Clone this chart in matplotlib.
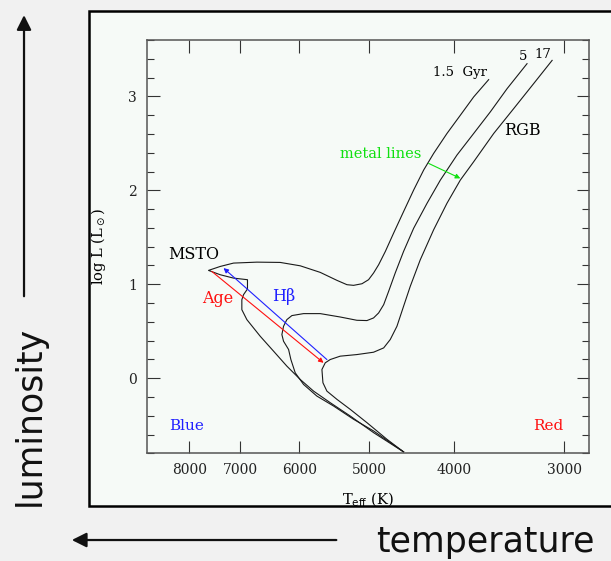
import numpy as np
import matplotlib
matplotlib.use("Agg")
import matplotlib.pyplot as plt
from matplotlib.patches import Rectangle, FancyArrowPatch
from matplotlib.ticker import FixedLocator, NullLocator, MultipleLocator, FuncFormatter

# isochrones: Teff (K) and log L (Lsun), traced from the MS up to the RGB tip
teff_15 = [4567, 4940, 5251, 5533, 5779, 5984, 6197, 6416, 6644, 6880, 6971, 6971,
           6940, 6869, 6869, 7124, 7377, 7606, 7377, 7124, 6702, 6306, 5984, 5679,
           5436, 5296, 5205, 5092, 5005, 4940, 4875, 4790, 4688, 4567, 4448, 4333,
           4222, 4077, 3937, 3802, 3656]
logl_15 = [-0.785, -0.58, -0.403, -0.261, -0.138, -0.014, 0.128, 0.287, 0.446, 0.623,
           0.729, 0.835, 0.889, 0.949, 1.048, 1.065, 1.101, 1.147, 1.189, 1.225, 1.235,
           1.232, 1.196, 1.126, 1.041, 0.995, 0.988, 1.005, 1.048, 1.119, 1.207, 1.349,
           1.543, 1.773, 2.003, 2.216, 2.392, 2.605, 2.799, 2.994, 3.178]

teff_5 = [4567, 4940, 5205, 5484, 5729, 5932, 6063, 6132, 6169, 6251, 6278, 6251,
          6197, 6116, 5932, 5679, 5390, 5160, 5026, 4940, 4875, 4811, 4749, 4668,
          4567, 4448, 4295, 4148, 3972, 3802, 3640, 3484, 3307]
logl_5 = [-0.785, -0.562, -0.438, -0.297, -0.191, -0.067, 0.057, 0.198, 0.305, 0.393,
          0.464, 0.552, 0.623, 0.666, 0.687, 0.687, 0.651, 0.616, 0.613, 0.641, 0.694,
          0.782, 0.924, 1.119, 1.349, 1.596, 1.862, 2.109, 2.375, 2.605, 2.835, 3.082,
          3.348]

teff_17 = [4567, 4770, 5026, 5251, 5436, 5581, 5639, 5654, 5605, 5533, 5390, 5160,
           4940, 4811, 4729, 4647, 4567, 4488, 4372, 4222, 4077, 3937, 3802, 3608,
           3424, 3250, 3097]
logl_17 = [-0.785, -0.651, -0.474, -0.332, -0.226, -0.138, -0.049, 0.092, 0.163, 0.198,
           0.234, 0.251, 0.276, 0.322, 0.411, 0.552, 0.765, 0.977, 1.26, 1.579, 1.862,
           2.109, 2.304, 2.605, 2.87, 3.136, 3.383]

# arrows: (Teff, logL) start -> end
hbeta_arrow = [(5581, 0.198), (7313, 1.172)]
age_arrow = [(7540, 1.136), (5630, 0.163)]
metal_arrow = [(4277, 2.286), (3937, 2.127)]

temp_ticks = [8000, 7000, 6000, 5000, 4000, 3000]
lum_ticks = [0, 1, 2, 3]

bg = '#f6faf7'
fig = plt.figure(figsize=(6.11, 5.61), dpi=100, facecolor='#f1f1f1')

# framed panel
fig.patches.append(Rectangle((0.1457, 0.098), 0.9, 0.8823, transform=fig.transFigure,
                             facecolor=bg, edgecolor='black', linewidth=1.8, zorder=-10))

ax = fig.add_axes([0.2401, 0.192, 0.7244, 0.7367], zorder=5)
ax.set_facecolor(bg)

for t, l in [(teff_15, logl_15), (teff_5, logl_5), (teff_17, logl_17)]:
    ax.plot(t, l, color='#1a1a1a', lw=0.8)

ax.set_xscale('log')
ax.set_xlim(8940, 2810)
ax.set_ylim(-0.8, 3.6)
ax.xaxis.set_major_locator(FixedLocator(temp_ticks))
ax.xaxis.set_minor_locator(NullLocator())
ax.xaxis.set_major_formatter(FuncFormatter(lambda v, p: '%d' % round(v)))
ax.yaxis.set_major_locator(FixedLocator(lum_ticks))
ax.yaxis.set_minor_locator(MultipleLocator(0.2))

ax.tick_params(which='both', direction='in', top=True, right=True, color='#333333', width=0.8)
ax.tick_params(which='major', length=9, pad=7, labelsize=10)
ax.tick_params(which='minor', length=5)
for lab in ax.get_xticklabels() + ax.get_yticklabels():
    lab.set_fontfamily('DejaVu Serif')
    lab.set_color('#222222')
for s in ax.spines.values():
    s.set_color('#555555')
    s.set_linewidth(1.1)

ax.set_xlabel(r'T$_{\rm eff}$ (K)', family='DejaVu Serif', fontsize=10.5)
ax.set_ylabel(r'log L (L$_\odot$)', family='DejaVu Serif', fontsize=10.5)
ax.xaxis.set_label_coords(0.5, -0.091)
ax.yaxis.set_label_coords(-0.0875, 0.5)

def arrow(pts, col):
    ax.annotate('', xy=pts[1], xytext=pts[0],
                arrowprops=dict(arrowstyle='-|>', color=col, lw=0.8,
                                mutation_scale=7, shrinkA=0, shrinkB=0))

arrow(hbeta_arrow, '#2020ff')
arrow(age_arrow, '#ff1010')
arrow(metal_arrow, '#10e010')

serif = 'DejaVu Serif'
ax.text(0.107, 0.480, 'MSTO', transform=ax.transAxes, ha='center', va='center', fontsize=11.5, family=serif)
ax.text(0.708, 0.921, '1.5  Gyr', transform=ax.transAxes, ha='center', va='center', fontsize=9.5, family=serif)
ax.text(0.850, 0.960, '5', transform=ax.transAxes, ha='center', va='center', fontsize=9.5, family=serif)
ax.text(0.896, 0.966, '17', transform=ax.transAxes, ha='center', va='center', fontsize=9.5, family=serif)
ax.text(0.849, 0.782, 'RGB', transform=ax.transAxes, ha='center', va='center', fontsize=11.5, family=serif)
ax.text(0.528, 0.724, 'metal lines', transform=ax.transAxes, ha='center', va='center', fontsize=10.5,
        family=serif, color='#10e010')
ax.text(0.160, 0.375, 'Age', transform=ax.transAxes, ha='center', va='center', fontsize=11.5,
        family=serif, color='#ff1010')
ax.text(0.310, 0.379, 'Hβ', transform=ax.transAxes, ha='center', va='center', fontsize=11.5,
        family=serif, color='#2020ff')
ax.text(0.090, 0.066, 'Blue', transform=ax.transAxes, ha='center', va='center', fontsize=11,
        family=serif, color='#2020ff')
ax.text(0.907, 0.066, 'Red', transform=ax.transAxes, ha='center', va='center', fontsize=11,
        family=serif, color='#ff1010')

# direction hints outside the panel
fig.patches.append(FancyArrowPatch((0.0393, 0.467), (0.0393, 0.978),
                   transform=fig.transFigure, arrowstyle='-|>', mutation_scale=22,
                   color='#111111', lw=1.6))
fig.patches.append(FancyArrowPatch((0.555, 0.0374), (0.113, 0.0374),
                   transform=fig.transFigure, arrowstyle='-|>', mutation_scale=22,
                   color='#111111', lw=1.6))
fig.text(0.0483, 0.2585, 'luminosity', rotation=90, ha='center', va='center',
         fontsize=25, color='#111111', family='DejaVu Sans')
fig.text(0.794, 0.034, 'temperature', ha='center', va='center',
         fontsize=25, color='#111111', family='DejaVu Sans')

fig.savefig('out.png', dpi=100, facecolor=fig.get_facecolor())
